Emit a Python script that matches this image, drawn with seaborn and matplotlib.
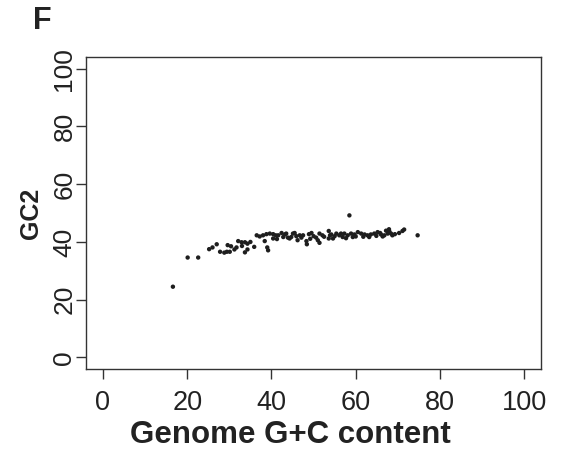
import numpy as np
import pandas as pd
import seaborn as sns
import matplotlib
matplotlib.use("Agg")
import matplotlib.pyplot as plt

# genome G+C content (x) vs GC2 (y)
genome_gc = [16.6, 20.1, 22.6, 25.2, 26.0, 27.0, 27.8, 28.8, 29.4, 29.6,
             30.1, 30.4, 31.2, 31.7, 32.1, 32.9, 33.7, 34.3, 33.7, 34.3,
             35.9, 36.5, 38.0, 38.4, 38.8, 39.0, 39.2, 39.6, 40.4, 40.4,
             41.0, 41.6, 42.4, 42.8, 43.5, 43.9, 44.3, 44.7, 45.1, 45.5,
             46.7, 47.1, 47.5, 48.3, 48.4, 48.9, 49.5, 50.0, 50.6, 51.0,
             51.4, 51.4, 52.1, 53.6, 53.9, 53.6, 54.6, 55.0, 55.4, 56.1,
             56.5, 56.9, 57.3, 58.1, 58.5, 58.9, 59.3, 59.7, 60.5, 61.3,
             62.1, 62.8, 63.6, 64.4, 65.2, 66.0, 66.8, 67.6, 68.0, 68.4,
             68.7, 70.3, 71.1, 71.5, 74.7,
             33.0, 35.0, 37.2, 41.3, 43.2, 45.9, 46.2, 49.2, 52.5, 54.2,
             57.7, 60.0, 61.8, 63.2, 64.9, 65.8, 66.4, 67.2, 69.3, 67.9]
gc2 = [24.5, 34.6, 34.6, 37.5, 38.1, 39.2, 36.6, 36.3, 36.6, 38.9,
       36.6, 38.5, 37.4, 38.1, 40.3, 39.9, 39.9, 39.4, 36.4, 37.4,
       38.3, 42.3, 42.3, 40.3, 42.7, 38.1, 37.1, 42.9, 42.7, 41.2,
       42.3, 42.3, 43.1, 41.7, 42.9, 41.5, 41.2, 41.7, 42.9, 43.1,
       42.3, 41.5, 42.3, 40.3, 39.2, 42.7, 43.1, 42.0, 41.5, 40.6,
       39.7, 42.9, 42.3, 43.8, 42.3, 41.2, 41.2, 42.0, 42.9, 42.3,
       42.9, 41.7, 42.9, 42.3, 49.2, 42.9, 41.7, 42.6, 43.4, 42.9,
       42.6, 42.3, 42.6, 42.9, 43.4, 42.6, 42.3, 42.9, 43.6, 42.9,
       42.3, 43.1, 43.8, 44.3, 42.3,
       38.6, 40.0, 41.9, 41.0, 42.6, 42.0, 40.6, 41.1, 41.8, 42.6,
       41.3, 41.9, 41.8, 41.7, 42.1, 43.1, 41.9, 43.9, 42.7, 44.4]
ticks = [0, 20, 40, 60, 80, 100]

df = pd.DataFrame({"genome": genome_gc, "gc2": gc2})

sns.set_style("ticks")
plt.rcParams['font.family'] = ['Liberation Sans', 'DejaVu Sans']

fig = plt.figure(figsize=(5.63, 4.5), dpi=100)
ax = fig.add_axes([0.153, 0.18, 0.808, 0.693])

sns.scatterplot(data=df, x="genome", y="gc2", ax=ax, s=10, color="#1e1e1e",
                edgecolor="none", marker="o")

ax.set_xlim(-4, 104)
ax.set_ylim(-4, 104)
ax.set_xticks(ticks)
ax.set_yticks(ticks)
ax.set_xticklabels([str(t) for t in ticks], fontsize=19.5, color="#222222")
ax.set_yticklabels([str(t) for t in ticks], fontsize=19, color="#222222",
                   rotation=90, va="center")
ax.tick_params(direction="out", length=7, width=1, color="#333333")
ax.tick_params(axis="x", pad=8)
ax.tick_params(axis="y", pad=0)
for sp in ax.spines.values():
    sp.set_visible(True)
    sp.set_color("#333333")
    sp.set_linewidth(1)

ax.set_xlabel("Genome G+C content", fontsize=22.5, fontweight="bold", color="#222222")
ax.xaxis.set_label_coords(0.448, -0.163)
ax.set_ylabel("GC2", fontsize=18, fontweight="bold", color="#222222", labelpad=7)

fig.text(0.075, 0.953, "F", fontsize=22, fontweight="bold", color="#222222",
         va="center", ha="center")

fig.savefig("out.png", dpi=100)
